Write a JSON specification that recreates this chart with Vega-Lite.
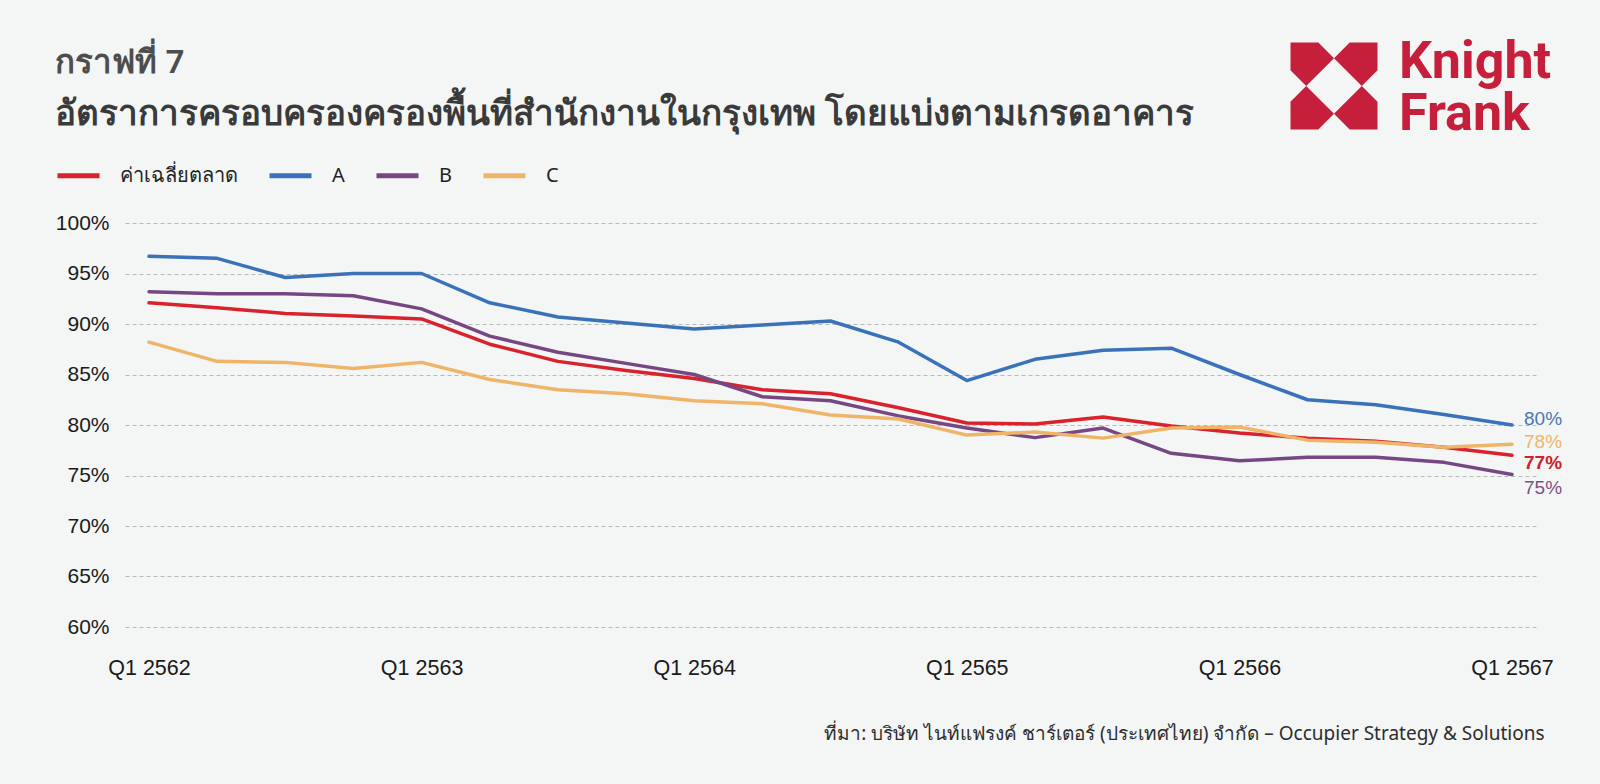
{
  "$schema": "https://vega.github.io/schema/vega-lite/v6.json",
  "autosize": {"type": "none"},
  "width": 1411,
  "height": 404,
  "padding": {"left": 125, "top": 223, "right": 64, "bottom": 157},
  "background": "#f3f6f5",
  "config": {"view": {"stroke": null}, "font": "Liberation Sans"},
  "title": {
    "text": "กราฟที่ 7",
    "subtitle": "อัตราการครอบครองครองพื้นที่สำนักงานในกรุงเทพ โดยแบ่งตามเกรดอาคาร",
    "anchor": "start",
    "frame": "group",
    "dx": -70,
    "offset": -96,
    "font": "Noto Sans",
    "fontSize": 33,
    "fontWeight": 600,
    "color": "#4d4d4d",
    "subtitleFont": "Noto Sans",
    "subtitleFontSize": 35,
    "subtitleFontWeight": "bold",
    "subtitleColor": "#3a3a3a",
    "subtitlePadding": 17
  },
  "data": {
    "values": [
      {"q": "Q1 2562", "s": "ค่าเฉลี่ยตลาด", "v": 0.921}, {"q": "Q2 2562", "s": "ค่าเฉลี่ยตลาด", "v": 0.916}, {"q": "Q3 2562", "s": "ค่าเฉลี่ยตลาด", "v": 0.9105}, {"q": "Q4 2562", "s": "ค่าเฉลี่ยตลาด", "v": 0.908},
      {"q": "Q1 2563", "s": "ค่าเฉลี่ยตลาด", "v": 0.905}, {"q": "Q2 2563", "s": "ค่าเฉลี่ยตลาด", "v": 0.880}, {"q": "Q3 2563", "s": "ค่าเฉลี่ยตลาด", "v": 0.863}, {"q": "Q4 2563", "s": "ค่าเฉลี่ยตลาด", "v": 0.854},
      {"q": "Q1 2564", "s": "ค่าเฉลี่ยตลาด", "v": 0.846}, {"q": "Q2 2564", "s": "ค่าเฉลี่ยตลาด", "v": 0.835}, {"q": "Q3 2564", "s": "ค่าเฉลี่ยตลาด", "v": 0.831}, {"q": "Q4 2564", "s": "ค่าเฉลี่ยตลาด", "v": 0.817},
      {"q": "Q1 2565", "s": "ค่าเฉลี่ยตลาด", "v": 0.802}, {"q": "Q2 2565", "s": "ค่าเฉลี่ยตลาด", "v": 0.801}, {"q": "Q3 2565", "s": "ค่าเฉลี่ยตลาด", "v": 0.808}, {"q": "Q4 2565", "s": "ค่าเฉลี่ยตลาด", "v": 0.799},
      {"q": "Q1 2566", "s": "ค่าเฉลี่ยตลาด", "v": 0.792}, {"q": "Q2 2566", "s": "ค่าเฉลี่ยตลาด", "v": 0.787}, {"q": "Q3 2566", "s": "ค่าเฉลี่ยตลาด", "v": 0.784}, {"q": "Q4 2566", "s": "ค่าเฉลี่ยตลาด", "v": 0.778},
      {"q": "Q1 2567", "s": "ค่าเฉลี่ยตลาด", "v": 0.770},
      {"q": "Q1 2562", "s": "A", "v": 0.967}, {"q": "Q2 2562", "s": "A", "v": 0.965}, {"q": "Q3 2562", "s": "A", "v": 0.946}, {"q": "Q4 2562", "s": "A", "v": 0.950},
      {"q": "Q1 2563", "s": "A", "v": 0.950}, {"q": "Q2 2563", "s": "A", "v": 0.921}, {"q": "Q3 2563", "s": "A", "v": 0.907}, {"q": "Q4 2563", "s": "A", "v": 0.901},
      {"q": "Q1 2564", "s": "A", "v": 0.895}, {"q": "Q2 2564", "s": "A", "v": 0.899}, {"q": "Q3 2564", "s": "A", "v": 0.903}, {"q": "Q4 2564", "s": "A", "v": 0.882},
      {"q": "Q1 2565", "s": "A", "v": 0.844}, {"q": "Q2 2565", "s": "A", "v": 0.865}, {"q": "Q3 2565", "s": "A", "v": 0.874}, {"q": "Q4 2565", "s": "A", "v": 0.876},
      {"q": "Q1 2566", "s": "A", "v": 0.850}, {"q": "Q2 2566", "s": "A", "v": 0.825}, {"q": "Q3 2566", "s": "A", "v": 0.820}, {"q": "Q4 2566", "s": "A", "v": 0.8105},
      {"q": "Q1 2567", "s": "A", "v": 0.800},
      {"q": "Q1 2562", "s": "B", "v": 0.932}, {"q": "Q2 2562", "s": "B", "v": 0.930}, {"q": "Q3 2562", "s": "B", "v": 0.930}, {"q": "Q4 2562", "s": "B", "v": 0.928},
      {"q": "Q1 2563", "s": "B", "v": 0.915}, {"q": "Q2 2563", "s": "B", "v": 0.888}, {"q": "Q3 2563", "s": "B", "v": 0.872}, {"q": "Q4 2563", "s": "B", "v": 0.861},
      {"q": "Q1 2564", "s": "B", "v": 0.850}, {"q": "Q2 2564", "s": "B", "v": 0.828}, {"q": "Q3 2564", "s": "B", "v": 0.824}, {"q": "Q4 2564", "s": "B", "v": 0.809},
      {"q": "Q1 2565", "s": "B", "v": 0.797}, {"q": "Q2 2565", "s": "B", "v": 0.7875}, {"q": "Q3 2565", "s": "B", "v": 0.797}, {"q": "Q4 2565", "s": "B", "v": 0.772},
      {"q": "Q1 2566", "s": "B", "v": 0.7645}, {"q": "Q2 2566", "s": "B", "v": 0.768}, {"q": "Q3 2566", "s": "B", "v": 0.768}, {"q": "Q4 2566", "s": "B", "v": 0.763},
      {"q": "Q1 2567", "s": "B", "v": 0.751},
      {"q": "Q1 2562", "s": "C", "v": 0.882}, {"q": "Q2 2562", "s": "C", "v": 0.863}, {"q": "Q3 2562", "s": "C", "v": 0.862}, {"q": "Q4 2562", "s": "C", "v": 0.856},
      {"q": "Q1 2563", "s": "C", "v": 0.862}, {"q": "Q2 2563", "s": "C", "v": 0.845}, {"q": "Q3 2563", "s": "C", "v": 0.835}, {"q": "Q4 2563", "s": "C", "v": 0.831},
      {"q": "Q1 2564", "s": "C", "v": 0.824}, {"q": "Q2 2564", "s": "C", "v": 0.821}, {"q": "Q3 2564", "s": "C", "v": 0.810}, {"q": "Q4 2564", "s": "C", "v": 0.806},
      {"q": "Q1 2565", "s": "C", "v": 0.790}, {"q": "Q2 2565", "s": "C", "v": 0.793}, {"q": "Q3 2565", "s": "C", "v": 0.787}, {"q": "Q4 2565", "s": "C", "v": 0.797},
      {"q": "Q1 2566", "s": "C", "v": 0.798}, {"q": "Q2 2566", "s": "C", "v": 0.785}, {"q": "Q3 2566", "s": "C", "v": 0.783}, {"q": "Q4 2566", "s": "C", "v": 0.778},
      {"q": "Q1 2567", "s": "C", "v": 0.781}
    ]
  },
  "layer": [
    {
      "encoding": {
        "x": {
          "field": "q",
          "type": "ordinal",
          "scale": {
            "type": "point",
            "domain": ["Q1 2562", "Q2 2562", "Q3 2562", "Q4 2562", "Q1 2563", "Q2 2563", "Q3 2563", "Q4 2563", "Q1 2564", "Q2 2564", "Q3 2564", "Q4 2564", "Q1 2565", "Q2 2565", "Q3 2565", "Q4 2565", "Q1 2566", "Q2 2566", "Q3 2566", "Q4 2566", "Q1 2567"],
            "padding": 0.352
          },
          "axis": {
            "values": ["Q1 2562", "Q1 2563", "Q1 2564", "Q1 2565", "Q1 2566", "Q1 2567"],
            "title": "ที่มา: บริษัท ไนท์แฟรงค์ ชาร์เตอร์ (ประเทศไทย) จำกัด – Occupier Strategy & Solutions",
            "domain": false,
            "ticks": false,
            "grid": false,
            "labelAngle": 0,
            "labelPadding": 30,
            "labelFont": "Liberation Sans",
            "labelFontSize": 21.5,
            "labelColor": "#1a1a1a",
            "labelOverlap": false,
            "labelBound": false,
            "labelFlush": false,
            "titleX": 1419,
            "titleAlign": "right",
            "titleBaseline": "middle",
            "titleY": 106,
            "titleFont": "Noto Sans",
            "titleFontSize": 19,
            "titleFontWeight": "normal",
            "titleColor": "#2d2d2d"
          }
        },
        "y": {
          "field": "v",
          "type": "quantitative",
          "scale": {"domain": [0.6, 1.0], "nice": false, "zero": false},
          "axis": {
            "title": null,
            "values": [0.6, 0.65, 0.7, 0.75, 0.8, 0.85, 0.9, 0.95, 1.0],
            "format": ".0%",
            "domain": false,
            "ticks": false,
            "labelPadding": 16,
            "labelFont": "Liberation Sans",
            "labelFontSize": 21,
            "labelColor": "#1a1a1a",
            "gridColor": "#b5b9b9",
            "gridDash": [4, 3],
            "gridWidth": 1
          }
        }
      },
      "layer": [
        {
          "mark": {"type": "line", "strokeWidth": 3.5, "strokeCap": "round", "strokeJoin": "round"},
          "encoding": {
            "color": {
              "field": "s",
              "type": "nominal",
              "scale": {"domain": ["ค่าเฉลี่ยตลาด", "A", "B", "C"], "range": ["#d9222c", "#3a72b9", "#774784", "#efb468"]},
              "legend": {
                "orient": "none",
                "legendX": -70,
                "legendY": -71,
                "direction": "horizontal",
                "title": null,
                "symbolType": "stroke",
                "symbolStrokeWidth": 5,
                "symbolSize": 1764,
                "labelFont": "Noto Sans",
                "labelFontSize": 20,
                "labelColor": "#222222",
                "labelOffset": 18,
                "columnPadding": 21
              }
            }
          }
        },
        {
          "transform": [{"filter": "datum.q == 'Q1 2567' && datum.s == 'A'"}],
          "mark": {"type": "text", "align": "left", "baseline": "middle", "dx": 12, "dy": -6, "fontSize": 19, "color": "#4a76b3"},
          "encoding": {"text": {"field": "v", "format": ".0%"}}
        },
        {
          "transform": [{"filter": "datum.q == 'Q1 2567' && datum.s == 'C'"}],
          "mark": {"type": "text", "align": "left", "baseline": "middle", "dx": 12, "dy": -2, "fontSize": 19, "color": "#efb46e"},
          "encoding": {"text": {"field": "v", "format": ".0%"}}
        },
        {
          "transform": [{"filter": "datum.q == 'Q1 2567' && datum.s == 'ค่าเฉลี่ยตลาด'"}],
          "mark": {"type": "text", "align": "left", "baseline": "middle", "dx": 12, "dy": 8, "fontSize": 19, "fontWeight": "bold", "color": "#d0202a"},
          "encoding": {"text": {"field": "v", "format": ".0%"}}
        },
        {
          "transform": [{"filter": "datum.q == 'Q1 2567' && datum.s == 'B'"}],
          "mark": {"type": "text", "align": "left", "baseline": "middle", "dx": 12, "dy": 14, "fontSize": 19, "color": "#7b5086"},
          "encoding": {"text": {"field": "v", "format": ".0%"}}
        }
      ]
    },
    {
      "data": {"values": [{"logo": "Knight Frank"}]},
      "mark": {
        "type": "point",
        "shape": "M-1,-1L-0.36,-1L0,-0.64L-0.64,0L-1,-0.36ZM1,-1L1,-0.36L0.64,0L0,-0.64L0.36,-1ZM-1,1L-1,0.36L-0.64,0L0,0.64L-0.36,1ZM1,1L0.36,1L0,0.64L0.64,0L1,0.36Z",
        "size": 7569,
        "filled": true,
        "opacity": 1,
        "strokeWidth": 0,
        "color": "#c61f3c"
      },
      "encoding": {"x": {"value": 1209}, "y": {"value": -137}}
    },
    {
      "data": {"values": [{"logo": "Knight"}]},
      "mark": {"type": "text", "align": "left", "baseline": "alphabetic", "font": "Roboto", "fontSize": 52, "fontWeight": "bold", "color": "#c61f3c"},
      "encoding": {"text": {"field": "logo"}, "x": {"value": 1274}, "y": {"value": -145}}
    },
    {
      "data": {"values": [{"logo": "Frank"}]},
      "mark": {"type": "text", "align": "left", "baseline": "alphabetic", "font": "Roboto", "fontSize": 52, "fontWeight": "bold", "color": "#c61f3c"},
      "encoding": {"text": {"field": "logo"}, "x": {"value": 1274}, "y": {"value": -93}}
    }
  ]
}
